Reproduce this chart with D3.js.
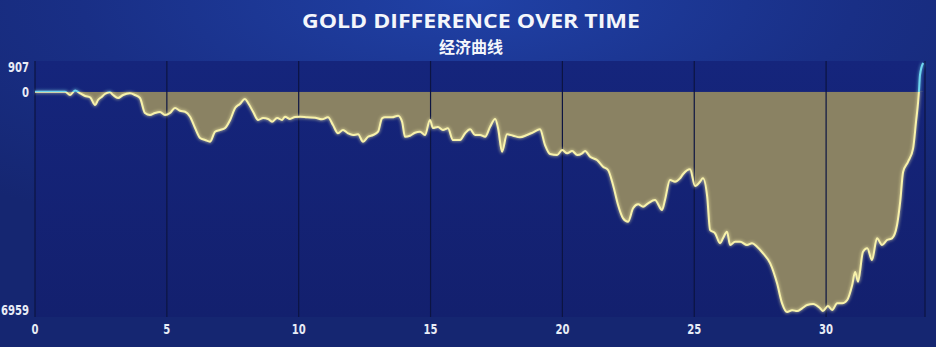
<!DOCTYPE html>
<html><head><meta charset="utf-8">
<script src="https://cdn.jsdelivr.net/npm/d3@7"></script>
<style>html,body{margin:0;padding:0;background:#162878;overflow:hidden}</style>
</head><body><svg id="c" width="936" height="347"></svg>
<script>
const titleText = "GOLD DIFFERENCE OVER TIME";
const subtitleText = "经济曲线";
const xTicks = [0, 5, 10, 15, 20, 25, 30];
const yTicks = [907, 0, -6959];
const minutes = [0,1.14,1.33,1.52,1.71,1.90,2.09,2.28,2.39,2.54,2.65,2.84,2.96,3.15,3.34,3.60,3.79,3.98,4.17,4.36,4.55,4.74,4.93,5.12,5.31,5.50,5.69,5.88,6.07,6.26,6.45,6.64,6.83,7.02,7.21,7.40,7.59,7.77,7.96,8.08,8.27,8.46,8.65,8.84,8.99,9.18,9.37,9.48,9.67,9.86,10.05,10.32,10.62,10.88,11.11,11.30,11.49,11.68,11.87,12.06,12.25,12.44,12.63,12.82,13.01,13.16,13.27,13.54,13.77,13.92,14.03,14.22,14.41,14.60,14.79,14.98,15.09,15.28,15.47,15.66,15.85,16.12,16.31,16.50,16.69,16.88,17.07,17.26,17.45,17.56,17.71,17.90,18.13,18.39,18.66,18.89,19.15,19.34,19.53,19.80,19.99,20.18,20.37,20.56,20.75,20.86,21.05,21.31,21.54,21.73,21.92,22.11,22.30,22.49,22.68,22.87,23.06,23.25,23.51,23.78,23.89,24.08,24.27,24.46,24.58,24.84,25.03,25.22,25.33,25.49,25.60,25.79,25.98,26.09,26.24,26.36,26.55,26.74,27.00,27.19,27.38,27.61,27.88,28.14,28.33,28.52,28.71,28.90,29.09,29.28,29.51,29.77,29.88,30.07,30.23,30.42,30.61,30.80,30.99,31.10,31.21,31.40,31.56,31.74,31.93,32.12,32.31,32.50,32.69,32.81,32.92,33.11,33.30,33.41,33.49,33.52,33.56,33.68];
const goldDiff = [0,0,-104,38,-51,-136,-177,-420,-262,-158,-73,-19,-104,-199,-104,-51,-104,-199,-673,-736,-673,-641,-736,-673,-515,-600,-632,-790,-1147,-1463,-1526,-1580,-1264,-1210,-1147,-894,-515,-389,-231,-357,-632,-894,-831,-862,-948,-831,-894,-790,-862,-799,-790,-809,-821,-872,-809,-1052,-1314,-1210,-1314,-1368,-1346,-1580,-1422,-1368,-1264,-840,-809,-809,-758,-948,-1422,-1390,-1295,-1264,-1368,-894,-1147,-1115,-1210,-1156,-1526,-1526,-1314,-1188,-1368,-1368,-1422,-1106,-862,-1156,-1895,-1346,-1390,-1441,-1368,-1283,-1188,-1684,-1968,-2000,-1842,-1946,-1873,-2000,-1946,-1873,-2053,-2158,-2369,-2473,-2947,-3579,-3999,-4107,-3683,-3557,-3633,-3525,-3421,-3737,-3421,-2789,-2843,-2736,-2600,-2451,-2979,-2843,-2736,-3317,-4369,-4473,-4789,-4631,-4423,-4843,-4739,-4739,-4843,-4789,-4896,-5105,-5421,-6053,-6685,-6959,-6900,-6930,-6842,-6738,-6706,-6842,-6928,-6770,-6896,-6685,-6685,-6580,-6106,-5696,-6002,-5054,-4947,-5317,-4631,-4843,-4685,-4631,-4211,-3475,-2537,-2211,-1788,-948,-316,0,528,907];

const data = minutes.map((m, i) => ({m, g: goldDiff[i]}));
const svg = d3.select("#c");
const W = 936, H = 347;
const x = d3.scaleLinear().domain([0, 33.75]).range([35, 925]);
const y = d3.scaleLinear().domain([-6959, 907]).range([312, 63]);

const defs = svg.append("defs");
const bg = defs.append("radialGradient").attr("id","bg").attr("cx","50%").attr("cy","0%").attr("r","75%");
bg.append("stop").attr("offset","0%").attr("stop-color","#2041a6");
bg.append("stop").attr("offset","55%").attr("stop-color","#192f86");
bg.append("stop").attr("offset","100%").attr("stop-color","#152671");
svg.append("rect").attr("width",W).attr("height",H).attr("fill","url(#bg)");

const pg = defs.append("linearGradient").attr("id","pg").attr("x1",0).attr("y1",0).attr("x2",0).attr("y2",1);
pg.append("stop").attr("offset","0%").attr("stop-color","#15257c");
pg.append("stop").attr("offset","100%").attr("stop-color","#13206e");
svg.append("rect").attr("x",x(0)).attr("y",61).attr("width",x(33.75)-x(0)).attr("height",317-61).attr("fill","url(#pg)");

const lg = defs.append("linearGradient").attr("id","lg").attr("gradientUnits","userSpaceOnUse")
  .attr("x1",0).attr("x2",0).attr("y1",y(907)).attr("y2",y(-6959));
const z = (y(0)-y(907))/(y(-6959)-y(907));
lg.append("stop").attr("offset",0).attr("stop-color","#6fd6ee");
lg.append("stop").attr("offset",z).attr("stop-color","#6fd6ee");
lg.append("stop").attr("offset",z).attr("stop-color","#f8f2ab");
lg.append("stop").attr("offset",1).attr("stop-color","#f8f2ab");

defs.append("clipPath").attr("id","below").append("rect")
  .attr("x",0).attr("y",y(0)).attr("width",W).attr("height",H);
const glow = defs.append("filter").attr("id","glow").attr("x","-5%").attr("y","-20%").attr("width","110%").attr("height","140%");
glow.append("feGaussianBlur").attr("stdDeviation",1.4);

const curve = d3.curveMonotoneX;
const area = d3.area().x(d=>x(d.m)).y0(y(0)).y1(d=>y(d.g)).curve(curve);
svg.append("path").datum(data).attr("d",area).attr("fill","#8a8263").attr("clip-path","url(#below)");

svg.append("g").selectAll("line").data(xTicks.filter(t=>t>0)).join("line")
  .attr("x1",d=>x(d)).attr("x2",d=>x(d)).attr("y1",61).attr("y2",317)
  .attr("stroke","#0c1442").attr("stroke-width",1.2);
svg.append("line").attr("x1",x(0)).attr("x2",x(0)).attr("y1",61).attr("y2",317).attr("stroke","#0c1442").attr("stroke-width",1.2);
svg.append("line").attr("x1",x(33.75)).attr("x2",x(33.75)).attr("y1",61).attr("y2",317).attr("stroke","#0c1442").attr("stroke-width",1.2);

const line = d3.line().x(d=>x(d.m)).y(d=>y(d.g)).curve(curve);
svg.append("path").datum(data).attr("d",line).attr("fill","none").attr("stroke","url(#lg)")
  .attr("stroke-width",3.5).attr("opacity",0.5).attr("filter","url(#glow)");
svg.append("path").datum(data).attr("d",line).attr("fill","none").attr("stroke","url(#lg)")
  .attr("stroke-width",2).attr("stroke-linejoin","round");

svg.append("text").attr("x",471).attr("y",28).attr("text-anchor","middle")
  .attr("font-family","'Open Sans', sans-serif").attr("font-weight",700).attr("font-size",20)
  .attr("fill","#f4f6fb").attr("textLength",338).attr("lengthAdjust","spacingAndGlyphs").text(titleText);
svg.append("text").attr("x",471).attr("y",53).attr("text-anchor","middle")
  .attr("font-family","'Noto Sans CJK SC', sans-serif").attr("font-weight",700).attr("font-size",16)
  .attr("fill","#f4f6fb").text(subtitleText);

const lblFont = "'Liberation Sans Narrow', 'DejaVu Sans Condensed', sans-serif";
const yOff = {907: 4, 0: 0, [-6959]: -2};
svg.append("g").selectAll("text").data(yTicks).join("text")
  .attr("transform",d=>`translate(29,${y(d)+(yOff[d]||0)}) scale(0.8,1)`)
  .attr("dy","0.35em").attr("text-anchor","end")
  .attr("font-family",lblFont).attr("font-weight",700).attr("font-size",14).attr("fill","#e8ecf6")
  .text(d=>Math.abs(d));
svg.append("g").selectAll("text").data(xTicks).join("text")
  .attr("transform",d=>`translate(${x(d)},329) scale(0.8,1)`)
  .attr("dy","0.35em").attr("text-anchor","middle")
  .attr("font-family",lblFont).attr("font-weight",700).attr("font-size",14).attr("fill","#e8ecf6")
  .text(d=>d);
</script></body></html>
